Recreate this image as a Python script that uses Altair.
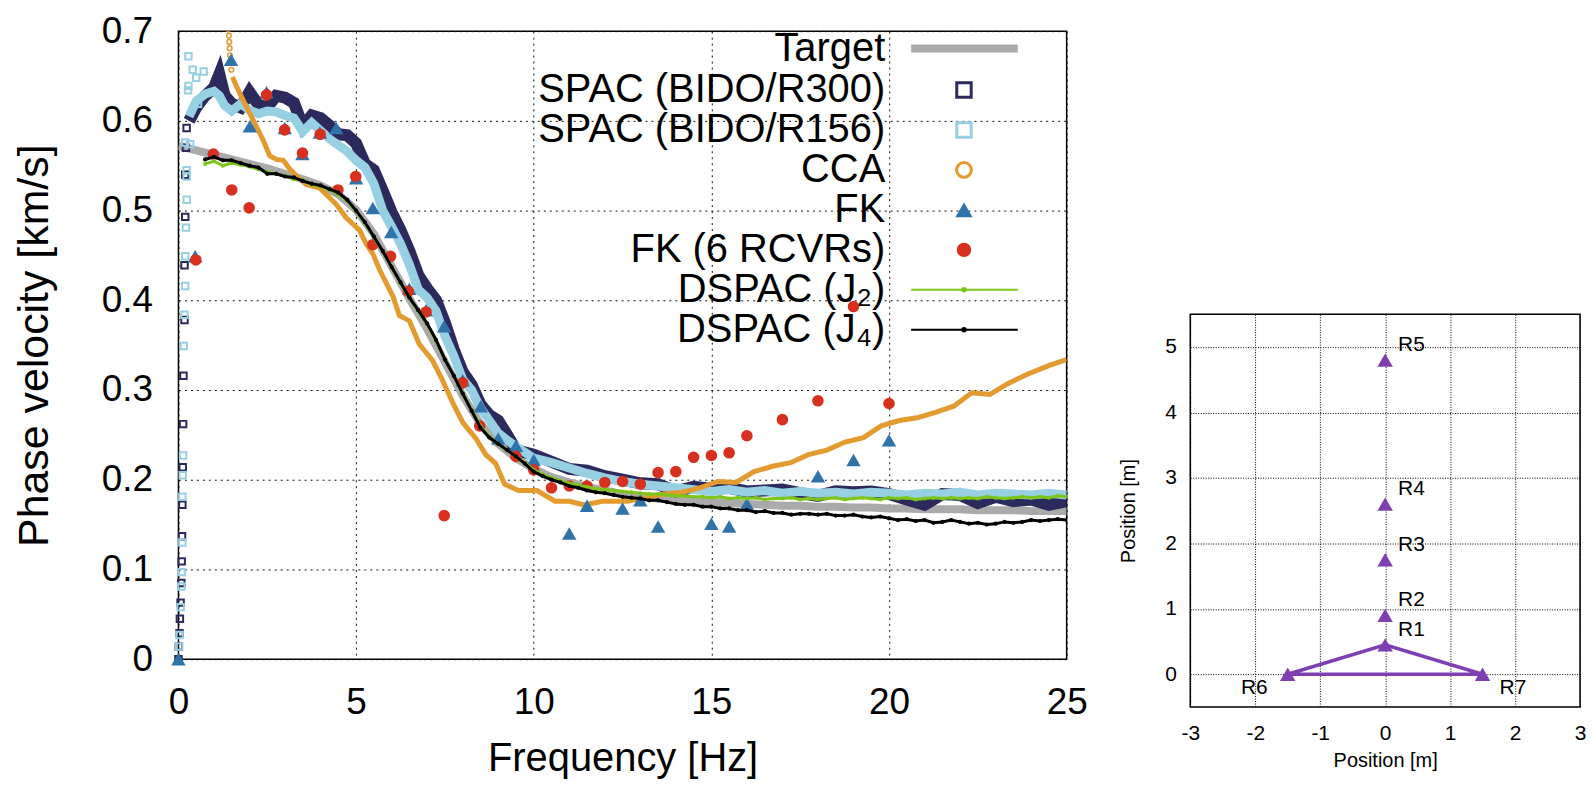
import altair as alt
import pandas as pd

# ---------------- data: main panel ----------------
X_TICKS = [0, 5, 10, 15, 20, 25]
Y_TICKS = [0, 0.1, 0.2, 0.3, 0.4, 0.5, 0.6, 0.7]

# Target (every 0.5 Hz from 0 to 25)
TARGET_V = [0.572, 0.567, 0.562, 0.557, 0.552, 0.547, 0.541, 0.535, 0.528, 0.518,
            0.501, 0.474, 0.438, 0.402, 0.368, 0.331, 0.294, 0.262, 0.240, 0.224,
            0.212, 0.203, 0.197, 0.192, 0.188, 0.184, 0.181, 0.179, 0.177, 0.176,
            0.175, 0.174, 0.173, 0.172, 0.171, 0.171, 0.170, 0.170, 0.169, 0.169,
            0.168, 0.168, 0.167, 0.167, 0.167, 0.166, 0.166, 0.166, 0.165, 0.165, 0.165]
TARGET_F = [0.5 * i for i in range(len(TARGET_V))]

# SPAC bands
SPAC_F = [0.3, 0.5, 0.75, 1.0, 1.15, 1.3, 1.5, 1.75, 2.0, 2.25, 2.5, 2.75, 3.0, 3.25, 3.5,
          3.75, 4.0, 4.25, 4.5, 4.75, 5.0, 5.25, 5.5, 5.75, 6.0, 6.25, 6.5, 6.75, 7.0, 7.25,
          7.5, 7.75, 8.0, 8.25, 8.5, 8.75, 9.0, 9.25, 9.5, 10.0, 10.5, 11.0, 11.5, 12.0,
          12.5, 13.0, 13.5, 14.0, 14.5, 15.0, 15.5, 16.0, 16.5, 17.0, 17.5, 18.0, 18.5,
          19.0, 19.5, 20.0, 20.5, 21.0, 21.5, 22.0, 22.5, 23.0, 23.5, 24.0, 24.5, 25.0]
R300_V = [0.600, 0.615, 0.628, 0.637, 0.652, 0.628, 0.619, 0.615, 0.632, 0.618, 0.615, 0.628,
          0.626, 0.620, 0.594, 0.606, 0.603, 0.595, 0.585, 0.584, 0.575, 0.552, 0.545, 0.522,
          0.498, 0.478, 0.455, 0.428, 0.413, 0.400, 0.375, 0.345, 0.320, 0.306, 0.284, 0.272,
          0.266, 0.250, 0.233,
          0.228, 0.220, 0.212, 0.210, 0.204, 0.200, 0.196, 0.195, 0.187, 0.192, 0.190, 0.191,
          0.187, 0.188, 0.189, 0.185, 0.182, 0.187, 0.186, 0.187, 0.184, 0.178, 0.172, 0.184,
          0.183, 0.174, 0.181, 0.176, 0.178, 0.172, 0.176]
R156_V = [0.605, 0.622, 0.630, 0.633, 0.628, 0.617, 0.611, 0.619, 0.612, 0.608, 0.611, 0.610,
          0.606, 0.603, 0.588, 0.598, 0.589, 0.580, 0.573, 0.566, 0.556, 0.548, 0.530, 0.500,
          0.482, 0.463, 0.440, 0.412, 0.403, 0.388, 0.360, 0.338, 0.312, 0.300, 0.280, 0.266,
          0.252, 0.244, 0.237,
          0.224, 0.219, 0.213, 0.207, 0.202, 0.198, 0.195, 0.193, 0.191, 0.189, 0.187, 0.189,
          0.186, 0.188, 0.185, 0.187, 0.185, 0.186, 0.184, 0.186, 0.185, 0.183, 0.185, 0.184,
          0.186, 0.183, 0.185, 0.184, 0.183, 0.185, 0.183]
# scattered low-frequency squares
R300_LOW_F = [0.0, 0.01, 0.03, 0.04, 0.06, 0.08, 0.09, 0.10, 0.11, 0.12, 0.13, 0.14, 0.17,
              0.17, 0.19, 0.19, 0.21, 0.23]
R300_LOW_V = [0.0, 0.014, 0.029, 0.045, 0.063, 0.085, 0.109, 0.137, 0.172, 0.214, 0.262,
              0.316, 0.378, 0.439, 0.493, 0.540, 0.570, 0.592]
R156_LOW_F = [0.02, 0.03, 0.06, 0.08, 0.09, 0.11, 0.11, 0.12, 0.13, 0.15, 0.17, 0.19, 0.19,
              0.21, 0.23, 0.23, 0.23, 0.19, 0.33, 0.55, 0.27, 0.28, 0.71, 0.50, 0.40, 0.28]
R156_LOW_V = [0.014, 0.027, 0.058, 0.081, 0.097, 0.130, 0.181, 0.205, 0.227, 0.349, 0.384,
              0.416, 0.449, 0.481, 0.512, 0.538, 0.545, 0.576, 0.574, 0.619, 0.634, 0.639,
              0.655, 0.648, 0.657, 0.672]

# CCA
CCA_TOP_F = [1.40, 1.42, 1.43, 1.44, 1.45, 1.47, 1.49]
CCA_TOP_V = [0.702, 0.695, 0.688, 0.681, 0.673, 0.665, 0.657]
CCA_F = [1.52, 1.64, 1.87, 2.10, 2.38, 2.57, 2.76, 2.95, 3.14, 3.42, 3.60, 3.98, 4.16, 4.44,
         4.72, 4.91, 5.10, 5.28, 5.47, 5.66, 6.03, 6.22, 6.50, 6.78, 7.15, 7.43, 7.72, 8.00,
         8.37, 8.65, 8.93, 9.18, 9.57, 10.09, 10.60, 11.00, 11.42, 11.93, 12.64, 13.15,
         13.66, 14.17, 14.68, 15.18, 15.70, 16.20, 16.72, 17.23, 17.73, 18.25, 18.76, 19.28,
         19.78, 20.29, 20.79, 21.31, 21.82, 22.33, 22.84, 23.34, 23.86, 24.55, 25.00]
CCA_V = [0.649, 0.638, 0.619, 0.601, 0.579, 0.561, 0.557, 0.556, 0.546, 0.535, 0.529, 0.525,
         0.518, 0.507, 0.492, 0.485, 0.478, 0.463, 0.452, 0.434, 0.405, 0.383, 0.377, 0.351,
         0.333, 0.311, 0.286, 0.264, 0.246, 0.228, 0.218, 0.195, 0.188, 0.188, 0.176, 0.176,
         0.172, 0.176, 0.176, 0.180, 0.184, 0.186, 0.191, 0.198, 0.197, 0.209, 0.215, 0.219,
         0.228, 0.233, 0.242, 0.247, 0.260, 0.266, 0.269, 0.275, 0.282, 0.297, 0.295, 0.307,
         0.317, 0.328, 0.334]

# FK
FK_F = [0.0, 0.47, 1.48, 2.01, 2.48, 2.99, 3.49, 3.98, 4.44, 5.0, 5.47, 5.99, 6.5, 6.97,
        7.48, 8.0, 8.51, 9.0, 9.5, 10.0, 11.0, 11.5, 12.5, 13.0, 13.5, 15.0, 15.5, 16.0,
        18.0, 19.0, 20.0]
FK_V = [0.0, 0.449, 0.668, 0.594, 0.632, 0.592, 0.563, 0.587, 0.592, 0.536, 0.503, 0.476,
        0.413, 0.389, 0.371, 0.311, 0.282, 0.246, 0.238, 0.222, 0.140, 0.171, 0.168, 0.177,
        0.148, 0.151, 0.148, 0.173, 0.204, 0.222, 0.244]

# FK (6 RCVRs)
FK6_F = [0.49, 0.98, 1.5, 1.99, 2.48, 2.99, 3.49, 3.99, 4.49, 4.99, 5.47, 5.97, 6.47, 6.97,
         7.48, 8.0, 8.48, 9.5, 10.0, 10.5, 11.0, 11.5, 12.0, 12.5, 13.0, 13.5, 14.0, 14.5,
         15.0, 15.5, 16.0, 17.0, 18.0, 19.0, 20.0]
FK6_V = [0.445, 0.563, 0.523, 0.503, 0.629, 0.590, 0.564, 0.585, 0.523, 0.538, 0.462, 0.449,
         0.410, 0.387, 0.160, 0.308, 0.260, 0.226, 0.211, 0.191, 0.193, 0.193, 0.197, 0.198,
         0.195, 0.208, 0.209, 0.225, 0.227, 0.230, 0.249, 0.267, 0.288, 0.393, 0.285]

# DSPAC (every 0.25 Hz from 0.75 Hz)
DSPAC_F0, DSPAC_STEP = 0.75, 0.25
J2_V = [0.552, 0.555, 0.550, 0.553, 0.551, 0.549, 0.546, 0.543, 0.541, 0.539,
        0.535, 0.534, 0.529, 0.527, 0.523, 0.518, 0.511, 0.499, 0.486, 0.470,
        0.454, 0.437, 0.419, 0.403, 0.388, 0.373, 0.355, 0.334, 0.316, 0.297,
        0.278, 0.260, 0.248, 0.240, 0.233, 0.226, 0.219, 0.211, 0.206, 0.202,
        0.199, 0.196, 0.194, 0.192, 0.190, 0.189, 0.188, 0.187, 0.186, 0.185,
        0.184, 0.184, 0.183, 0.182, 0.182, 0.181, 0.181, 0.180, 0.181, 0.179,
        0.180, 0.179, 0.180, 0.178, 0.179, 0.179, 0.180, 0.178, 0.179, 0.178,
        0.179, 0.180, 0.178, 0.179, 0.180, 0.179, 0.178, 0.180, 0.179, 0.180,
        0.178, 0.179, 0.180, 0.179, 0.180, 0.179, 0.180, 0.179, 0.181, 0.180,
        0.179, 0.180, 0.181, 0.180, 0.181, 0.180, 0.182, 0.181]
J4_V = [0.557, 0.560, 0.556, 0.556, 0.553, 0.550, 0.548, 0.541, 0.541, 0.538,
        0.537, 0.533, 0.530, 0.528, 0.524, 0.520, 0.512, 0.500, 0.487, 0.471,
        0.455, 0.437, 0.420, 0.403, 0.389, 0.374, 0.356, 0.334, 0.316, 0.296,
        0.277, 0.258, 0.247, 0.240, 0.233, 0.226, 0.218, 0.209, 0.204, 0.200,
        0.197, 0.193, 0.191, 0.188, 0.186, 0.185, 0.183, 0.181, 0.180, 0.179,
        0.177, 0.177, 0.175, 0.173, 0.172, 0.172, 0.170, 0.170, 0.168, 0.168,
        0.166, 0.166, 0.164, 0.165, 0.163, 0.163, 0.161, 0.162, 0.162, 0.161,
        0.162, 0.160, 0.160, 0.161, 0.159, 0.158, 0.159, 0.157, 0.155, 0.156,
        0.154, 0.155, 0.152, 0.153, 0.155, 0.153, 0.151, 0.152, 0.150, 0.151,
        0.153, 0.152, 0.153, 0.155, 0.154, 0.155, 0.156, 0.155]

LEGEND_LABELS = ["Target", "SPAC (BIDO/R300)", "SPAC (BIDO/R156)", "CCA", "FK",
                 "FK (6 RCVRs)", "DSPAC (J\u2082)", "DSPAC (J\u2084)"]

# ---------------- data: array panel ----------------
REC_NAMES = ["R1", "R2", "R3", "R4", "R5", "R6", "R7"]
REC_X = [0, 0, 0, 0, 0, -1.5, 1.5]
REC_Y = [0.45, 0.9, 1.75, 2.6, 4.8, 0, 0]
PATH = ["R6", "R1", "R7", "R6"]
POS_TICKS_X = [-3, -2, -1, 0, 1, 2, 3]
POS_TICKS_Y = [0, 1, 2, 3, 4, 5]

# ---------------- styles ----------------
FONT = "Liberation Sans"
NAVY = "#2c2a5c"
LBLUE = "#98d0e3"
ORANGE = "#e39a2e"
FKBLUE = "#2f73aa"
RED = "#d8301f"
GREEN = "#7cc61a"
GRAY = "#aaaaaa"
PURPLE = "#7f3fb3"

W, H = 891, 630


def fv(f, v):
    return pd.DataFrame({"f": f, "v": v})


x_enc = alt.X("f:Q", scale=alt.Scale(domain=[0, 25], nice=False, zero=False),
              axis=alt.Axis(values=X_TICKS, title="Frequency [Hz]", labelFontSize=37,
                            titleFontSize=40, labelPadding=26, titlePadding=18, ticks=False,
                            tickSize=0, domain=False, gridDash=[2, 4], gridColor="#111111",
                            gridWidth=1, labelFlush=False, titleFontWeight="normal",
                            labelColor="black", titleColor="black"))
y_enc = alt.Y("v:Q", scale=alt.Scale(domain=[0, 0.7], nice=False, zero=False),
              axis=alt.Axis(values=Y_TICKS, title="Phase velocity [km/s]",
                            labelFontSize=37,
                            titleFontSize=43, labelPadding=26, titlePadding=45, ticks=False,
                            tickSize=0, domain=False, gridDash=[2, 4], gridColor="#111111",
                            gridWidth=1, labelFlush=False, titleFontWeight="normal",
                            labelColor="black", titleColor="black",
                            labelExpr="datum.value == 0 ? '0' : format(datum.value, '.1f')"))

dspac_f = [DSPAC_F0 + DSPAC_STEP * i for i in range(len(J4_V))]

layers = [
    alt.Chart(fv(TARGET_F, TARGET_V)).mark_line(color=GRAY, strokeWidth=8, clip=True),
    alt.Chart(fv(SPAC_F, R300_V)).mark_line(color=NAVY, strokeWidth=12, clip=True),
    alt.Chart(fv(R300_LOW_F, R300_LOW_V)).mark_point(shape="square", filled=False, size=42,
                                                    strokeWidth=2, color=NAVY, opacity=1),
    alt.Chart(fv(SPAC_F, R156_V)).mark_line(color=LBLUE, strokeWidth=9, clip=True),
    alt.Chart(fv(R156_LOW_F, R156_LOW_V)).mark_point(shape="square", filled=False, size=42,
                                                    strokeWidth=2, color=LBLUE, opacity=1),
    alt.Chart(fv(CCA_F, CCA_V)).mark_line(color=ORANGE, strokeWidth=5, clip=True),
    alt.Chart(fv(CCA_TOP_F, CCA_TOP_V)).mark_point(shape="circle", filled=False, size=22,
                                                  strokeWidth=1.5, color=ORANGE, opacity=1,
                                                  clip=True),
    alt.Chart(fv(FK_F, FK_V)).mark_point(shape="triangle-up", filled=True, size=210,
                                         color=FKBLUE, opacity=1),
    alt.Chart(fv(FK6_F, FK6_V)).mark_circle(size=135, color=RED, opacity=1),
    alt.Chart(fv(dspac_f, J2_V)).mark_line(color=GREEN, strokeWidth=3, clip=True,
                                          point=alt.OverlayMarkDef(size=16, color=GREEN,
                                                                   filled=True)),
    alt.Chart(fv(dspac_f, J4_V)).mark_line(color="black", strokeWidth=3, clip=True,
                                          point=alt.OverlayMarkDef(size=18, color="black",
                                                                   filled=True)),
]
layers = [l.encode(x=x_enc, y=y_enc) for l in layers]

# legend (layout in pixels inside the plot area)
LEG_TEXT_X, LEG_SYM_X, LEG_L0, LEG_L1 = 709, 788, 735, 842
leg_y = [17.5] + [59 + 40.1 * i for i in range(len(LEGEND_LABELS) - 1)]
one = pd.DataFrame({"k": [0]})
for lab, yy in zip(LEGEND_LABELS, leg_y):
    layers.append(alt.Chart(pd.DataFrame({"label": [lab]})).mark_text(
        align="right", baseline="middle", fontSize=40, font=FONT, color="black").encode(
        text="label:N", x=alt.value(LEG_TEXT_X), y=alt.value(yy)))

sym_specs = [
    ("rule", GRAY, 8), ("square", NAVY, None), ("square", LBLUE, None), ("ocircle", ORANGE, None),
    ("triangle", FKBLUE, None), ("dot", RED, None), ("rule", GREEN, 2), ("rule", "black", 2),
]
for (kind, col, sw), yy in zip(sym_specs, leg_y):
    if kind == "rule":
        layers.append(alt.Chart(one).mark_rule(color=col, strokeWidth=sw).encode(
            x=alt.value(LEG_L0), x2=alt.value(LEG_L1), y=alt.value(yy)))
        if sw == 2:
            layers.append(alt.Chart(one).mark_circle(size=30, color=col, opacity=1).encode(
                x=alt.value(LEG_SYM_X), y=alt.value(yy)))
    elif kind == "square":
        layers.append(alt.Chart(one).mark_point(shape="square", filled=False, size=210,
                                                strokeWidth=3, color=col, opacity=1).encode(
            x=alt.value(LEG_SYM_X), y=alt.value(yy)))
    elif kind == "ocircle":
        layers.append(alt.Chart(one).mark_point(shape="circle", filled=False, size=220,
                                                strokeWidth=3, color=col, opacity=1).encode(
            x=alt.value(LEG_SYM_X), y=alt.value(yy)))
    elif kind == "triangle":
        layers.append(alt.Chart(one).mark_point(shape="triangle-up", filled=True, size=300,
                                                color=col, opacity=1).encode(
            x=alt.value(LEG_SYM_X), y=alt.value(yy)))
    else:
        layers.append(alt.Chart(one).mark_circle(size=210, color=col, opacity=1).encode(
            x=alt.value(LEG_SYM_X), y=alt.value(yy)))

main = alt.layer(*layers).properties(width=W, height=H)

# ---------------- array panel ----------------
rx = alt.X("x:Q", scale=alt.Scale(domain=[-3, 3], nice=False, zero=False),
           axis=alt.Axis(values=POS_TICKS_X, title="Position [m]", labelFontSize=21,
                         titleFontSize=20, labelPadding=16, titlePadding=7, ticks=False,
                         tickSize=0, domain=False, gridDash=[1, 1.5], gridColor="#000000",
                         gridWidth=1, labelFlush=False, titleFontWeight="normal",
                         labelColor="black", titleColor="black",
                         labelExpr="'' + datum.value"))
ry = alt.Y("y:Q", scale=alt.Scale(domain=[-0.5, 5.5], nice=False, zero=False),
           axis=alt.Axis(values=POS_TICKS_Y, title="Position [m]", labelFontSize=21,
                         titleFontSize=20, labelPadding=14, titlePadding=26, ticks=False,
                         tickSize=0, domain=False, gridDash=[1, 1.5], gridColor="#000000",
                         gridWidth=1, labelFlush=False, titleFontWeight="normal",
                         labelColor="black", titleColor="black",
                         labelExpr="'' + datum.value"))

rec = pd.DataFrame({"name": REC_NAMES, "x": REC_X, "y": REC_Y})
lookup = {n: (x, y) for n, x, y in zip(REC_NAMES, REC_X, REC_Y)}
path = pd.DataFrame({"name": PATH, "x": [lookup[n][0] for n in PATH],
                     "y": [lookup[n][1] for n in PATH], "ord": list(range(len(PATH)))})

r_line = alt.Chart(path).mark_line(color=PURPLE, strokeWidth=3.5).encode(
    x=rx, y=ry, order="ord:Q")
r_pts = alt.Chart(rec).mark_point(shape="triangle-up", filled=True, size=240, color=PURPLE,
                                  opacity=1).encode(x=rx, y=ry)
r_t_top = alt.Chart(rec).transform_filter("datum.x == 0").mark_text(
    align="left", baseline="middle", dx=13, dy=-15, fontSize=21, font=FONT,
    color="black").encode(x=rx, y=ry, text="name:N")
r_t_left = alt.Chart(rec).transform_filter("datum.x < 0").mark_text(
    align="right", baseline="middle", dx=-20, dy=14, fontSize=21, font=FONT,
    color="black").encode(x=rx, y=ry, text="name:N")
r_t_right = alt.Chart(rec).transform_filter("datum.x > 0").mark_text(
    align="left", baseline="middle", dx=17, dy=14, fontSize=21, font=FONT,
    color="black").encode(x=rx, y=ry, text="name:N")

right = alt.layer(r_line, r_pts, r_t_top, r_t_left, r_t_right).properties(width=391, height=394)

spacer = alt.Chart(one).mark_point(opacity=0).encode(
    x=alt.value(0), y=alt.value(0)).properties(
    width=391, height=262, view=alt.ViewBackground(stroke="transparent"))

chart = alt.hconcat(main, alt.vconcat(spacer, right, spacing=20), spacing=29).properties(
    padding={"left": 4, "top": 2, "right": 0, "bottom": 0}
).configure(font=FONT).configure_view(stroke="black", strokeWidth=1.5)

chart.save("out.html", embed_options={"renderer": "svg", "actions": False})
